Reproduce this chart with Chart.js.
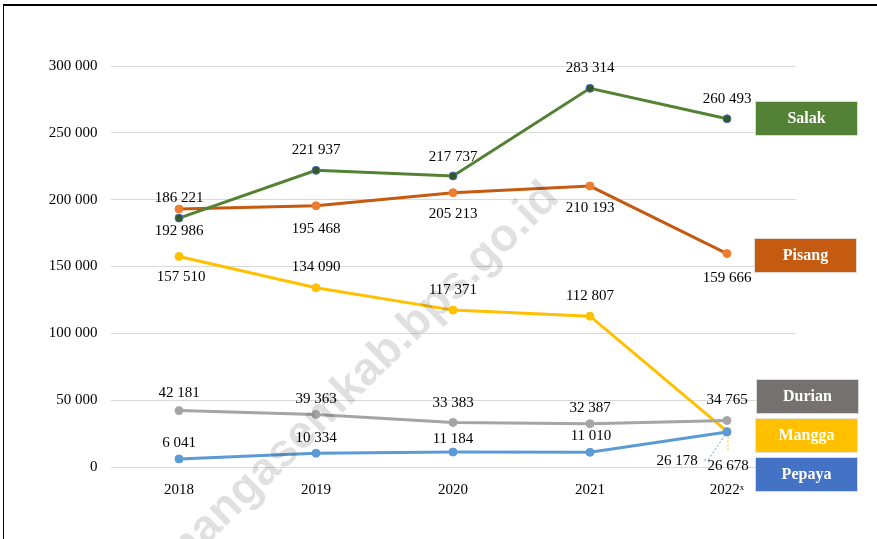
<!DOCTYPE html>
<html>
<head>
<meta charset="utf-8">
<script src="https://cdn.jsdelivr.net/npm/chart.js@4/dist/chart.umd.min.js"></script>
<style>
  body { margin: 0; background: #fff; }
  #wrap { position: relative; width: 877px; height: 539px; overflow: hidden; }
  #frame { position: absolute; left: 3px; top: 4px; right: -5px; bottom: -5px;
           border-top: 2px solid #000; border-left: 1px solid #000; pointer-events: none; }
  canvas { position: absolute; left: 0; top: 0; }
</style>
</head>
<body>
<div id="wrap">
  <canvas id="chart" width="877" height="539"></canvas>
  <div id="frame"></div>
</div>
<script>
// Data
const years = ['2018', '2019', '2020', '2021', '2022ˣ'];
const seriesNames = ['Salak', 'Pisang', 'Durian', 'Pepaya', 'Mangga'];
const salak = [186221, 221937, 217737, 283314, 260493];
const pisang = [192986, 195468, 205213, 210193, 159666];
const durian = [42181, 39363, 33383, 32387, 34765];
const pepaya = [6041, 10334, 11184, 11010, 26178];
const mangga = [157510, 134090, 117371, 112807, 26678];
const yMin = 0, yMax = 300000, yStep = 50000;

// Styles
const lineColors = ['#548235', '#C55A11', '#A5A5A5', '#5B9BD5', '#FFC000'];
const pointFills = ['#375623', '#ED7D31', '#A5A5A5', '#5B9BD5', '#FFC000'];
const pointBorders = ['#4472C4', '#ED7D31', '#A5A5A5', '#5B9BD5', '#FFC000'];
const boxColors = ['#538135', '#C55A11', '#767171', '#4472C4', '#FFC000'];
// box top-left positions (x, y) for the series name tags
const boxPos = [[755, 101], [754, 238], [756, 379], [755, 457], [755, 418]];

// label offsets from the point, per series
const labelOffsets = [
  [[0, -20], [0, -20], [0, -19], [0, -20], [0, -20]],
  [[0, 22], [0, 23], [0, 21], [0, 22], [0, 24]],
  [[0, -18], [0, -15], [0, -19], [0, -16], [0, -20]],
  [[0, -16], [0, -15], [0, -13], [1, -16], [-50, 29]],
  [[2, 21], [0, -21], [0, -20], [0, -20], [1, 35]]
];
// dotted leader lines (relative to point)
const leaders = {
  '3-4': [[-2, 3], [-19, 28], [-24, 28]],
  '4-4': [[1, 5], [1, 20]]
};

const fmt = v => String(v).replace(/\B(?=(\d{3})+(?!\d))/g, ' ');
const serif = '"Liberation Serif", "DejaVu Serif", serif';

const labelPlugin = {
  id: 'labelPlugin',
  afterDatasetsDraw(chart) {
    const ctx = chart.ctx;
    ctx.save();
    ctx.font = '15px ' + serif;
    ctx.textAlign = 'center';
    ctx.textBaseline = 'middle';
    chart.data.datasets.forEach((ds, i) => {
      const meta = chart.getDatasetMeta(i);
      meta.data.forEach((pt, j) => {
        const lead = leaders[i + '-' + j];
        if (lead) {
          ctx.strokeStyle = lineColors[i];
          ctx.lineWidth = 1;
          ctx.setLineDash([2, 2]);
          ctx.beginPath();
          lead.forEach((p, k) => {
            if (k === 0) ctx.moveTo(pt.x + p[0], pt.y + p[1]);
            else ctx.lineTo(pt.x + p[0], pt.y + p[1]);
          });
          ctx.stroke();
          ctx.setLineDash([]);
        }
        const off = labelOffsets[i][j];
        ctx.fillStyle = '#000';
        ctx.fillText(fmt(ds.data[j]), pt.x + off[0], pt.y + off[1]);
      });
    });
    ctx.restore();
  },
  afterDraw(chart) {
    const ctx = chart.ctx;
    ctx.save();
    // name tags
    ctx.font = 'bold 16px ' + serif;
    ctx.textAlign = 'center';
    ctx.textBaseline = 'middle';
    seriesNames.forEach((name, i) => {
      const [x, y] = boxPos[i];
      ctx.fillStyle = boxColors[i];
      ctx.fillRect(x, y, 103, 35);
      ctx.strokeStyle = 'rgba(230,230,230,0.9)';
      ctx.lineWidth = 1;
      ctx.strokeRect(x + 0.5, y + 0.5, 102, 34);
      ctx.fillStyle = '#ffffff';
      ctx.fillText(name, x + 51.5, y + 18);
    });
    // watermark
    ctx.translate(360, 378);
    ctx.rotate(-44.3 * Math.PI / 180);
    ctx.font = 'bold 46px "Liberation Sans", Arial, sans-serif';
    ctx.fillStyle = 'rgba(0,0,0,0.12)';
    ctx.fillText('mangasemkab.bps.go.id', 0, 0);
    ctx.restore();
  }
};

const allSeries = [salak, pisang, durian, pepaya, mangga];

new Chart(document.getElementById('chart'), {
  type: 'line',
  data: {
    labels: years,
    datasets: allSeries.map((values, i) => ({
      label: seriesNames[i],
      data: values,
      borderColor: lineColors[i],
      backgroundColor: pointFills[i],
      pointBackgroundColor: pointFills[i],
      pointBorderColor: pointBorders[i],
      pointBorderWidth: 1,
      pointRadius: 4,
      borderWidth: 3,
      tension: 0,
      fill: false
    }))
  },
  options: {
    responsive: false,
    animation: false,
    layout: { padding: { top: 66, right: 81.5, bottom: 0, left: 0 } },
    plugins: {
      legend: { display: false },
      tooltip: { enabled: false }
    },
    scales: {
      x: {
        offset: true,
        grid: { display: false },
        border: { display: false },
        ticks: { color: '#000', font: { family: serif, size: 15 }, padding: 6, maxRotation: 0 },
        afterFit(scale) { scale.height = 72; }
      },
      y: {
        min: yMin,
        max: yMax,
        grid: { color: '#D9D9D9', drawTicks: false },
        border: { display: false },
        ticks: {
          stepSize: yStep,
          color: '#000',
          font: { family: serif, size: 15 },
          padding: 13,
          callback: v => fmt(v)
        },
        afterFit(scale) { scale.width = 110.5; }
      }
    }
  },
  plugins: [labelPlugin]
});
</script>
</body>
</html>
